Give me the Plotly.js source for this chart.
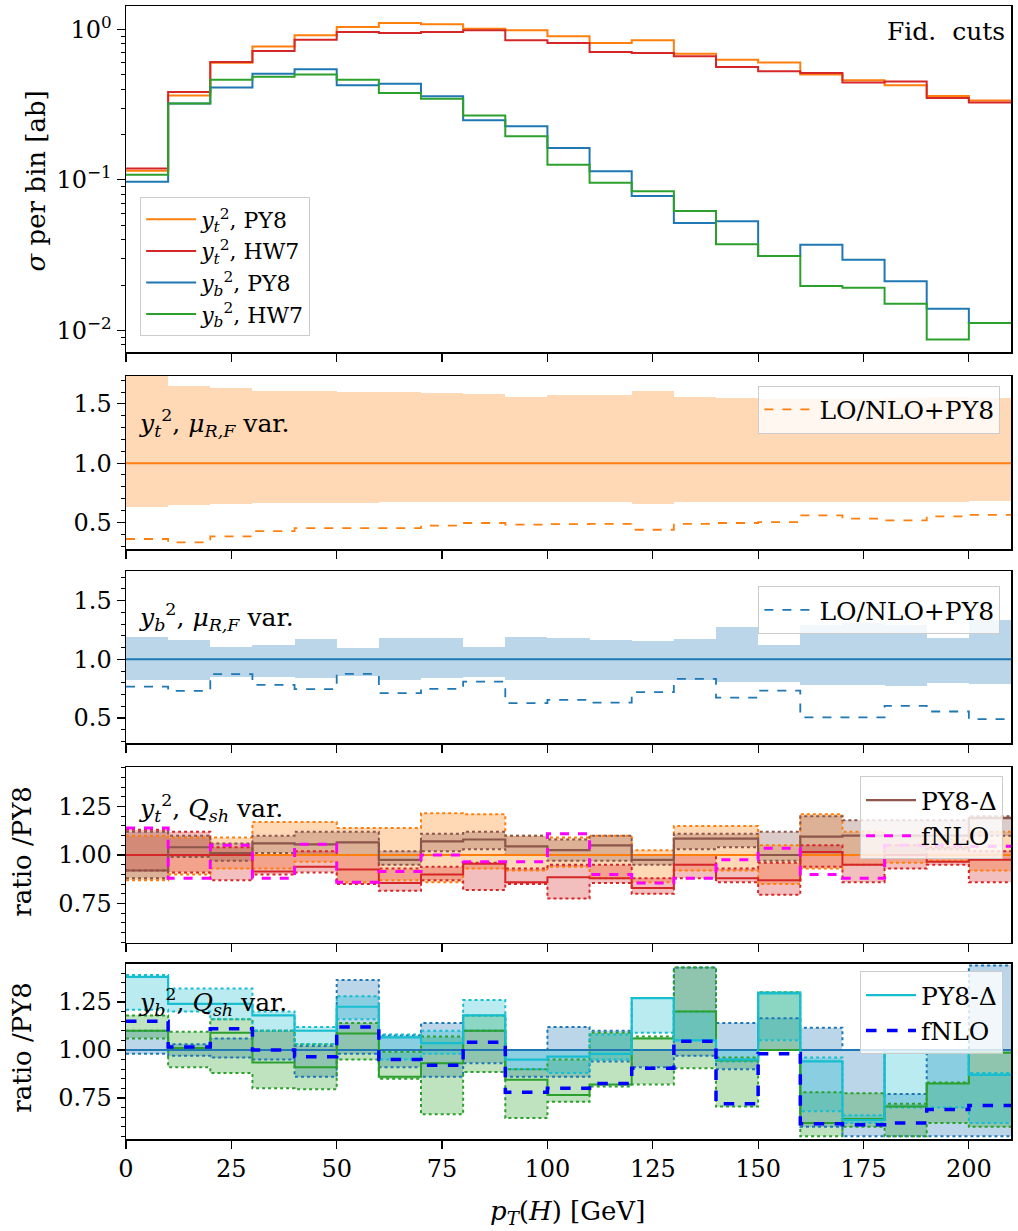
<!DOCTYPE html>
<html><head><meta charset="utf-8">
<script src="https://cdn.plot.ly/plotly-3.0.1.min.js"></script>
<style>html,body{margin:0;padding:0;background:#fff}#plot{width:1018px;height:1231px}</style>
</head><body><div id="plot"></div>
<script>
// ---------- data ----------
const binEdges = [0,10,20,30,40,50,60,70,80,90,100,110,120,130,140,150,160,170,180,190,200,210];
const xTicks = [0,25,50,75,100,125,150,175,200];

// panel 1: sigma per bin [ab]
const ytPY8 = [0.115,0.364,0.600,0.770,0.912,1.036,1.100,1.080,1.010,0.985,0.899,0.811,0.845,0.689,0.629,0.601,0.502,0.458,0.425,0.360,0.337];
const ytHW7 = [0.119,0.383,0.607,0.718,0.854,0.960,0.945,0.960,0.985,0.845,0.811,0.707,0.696,0.662,0.562,0.526,0.513,0.443,0.451,0.350,0.326];
const ybPY8 = [0.097,0.321,0.410,0.507,0.542,0.425,0.435,0.359,0.249,0.227,0.163,0.114,0.078,0.0516,0.053,0.0312,0.0371,0.0295,0.0212,0.0139,0.0112];
const ybHW7 = [0.108,0.321,0.463,0.485,0.502,0.463,0.377,0.346,0.268,0.195,0.126,0.0958,0.0839,0.0621,0.0373,0.0312,0.0197,0.0192,0.0150,0.0087,0.0112];

// nominal ratio
const nominal = [1,1,1,1,1,1,1,1,1,1,1,1,1,1,1,1,1,1,1,1,1];

// panel 2: y_t^2 mu_RF variation
const ytMuLo = [0.634,0.649,0.657,0.663,0.663,0.663,0.668,0.668,0.668,0.668,0.668,0.668,0.655,0.674,0.674,0.674,0.674,0.674,0.674,0.674,0.682];
const ytMuHi = [1.80,1.651,1.632,1.612,1.609,1.600,1.600,1.590,1.584,1.561,1.578,1.578,1.607,1.556,1.550,1.539,1.544,1.544,1.547,1.556,1.548];
const ytLO = [0.360,0.331,0.382,0.427,0.452,0.452,0.452,0.472,0.495,0.481,0.486,0.488,0.438,0.488,0.495,0.503,0.559,0.531,0.517,0.551,0.564];

// panel 3: y_b^2 mu_RF variation
const ybMuLo = [0.824,0.824,0.847,0.847,0.839,0.858,0.824,0.839,0.852,0.824,0.824,0.824,0.824,0.824,0.805,0.805,0.782,0.782,0.773,0.796,0.788];
const ybMuHi = [1.192,1.164,1.107,1.121,1.172,1.093,1.178,1.184,1.102,1.192,1.178,1.164,1.155,1.175,1.277,1.121,1.291,1.306,1.290,1.180,1.334];
const ybLO = [0.767,0.731,0.873,0.782,0.745,0.875,0.711,0.748,0.810,0.626,0.654,0.631,0.720,0.833,0.674,0.733,0.504,0.504,0.603,0.555,0.490];

// panel 4: y_t^2 Q_sh variation
const ytPY8QLo = [0.87,0.90,0.93,0.93,0.965,0.86,0.87,0.86,0.93,0.92,0.94,0.88,0.86,0.92,0.92,0.85,0.93,0.95,0.96,0.97,0.92];
const ytPY8QHi = [1.10,1.09,1.09,1.17,1.17,1.14,1.14,1.215,1.21,1.10,1.09,1.10,1.025,1.15,1.15,1.05,1.21,1.12,1.10,1.08,1.12];
const ytHW7R   = [1.00,1.00,1.00,0.915,0.94,0.925,0.855,0.90,0.955,0.86,0.885,0.88,0.83,0.95,0.88,0.87,1.015,0.95,1.00,0.965,0.975];
const ytHW7QLo = [0.92,0.91,0.87,0.90,0.91,0.85,0.815,0.87,0.82,0.85,0.775,0.855,0.80,0.88,0.86,0.795,0.94,0.86,0.93,0.95,0.86];
const ytHW7QHi = [1.13,1.12,1.04,1.00,1.02,1.00,0.93,0.94,0.96,0.93,0.95,0.95,0.88,1.00,0.93,0.96,1.05,1.00,1.05,1.04,1.02];
const ytDelta  = [0.92,1.04,1.01,1.06,1.055,1.065,0.975,1.07,1.08,1.045,1.025,1.05,0.975,1.085,1.085,1.00,1.095,1.10,1.10,1.10,1.19];
const ytDelLo  = [0.88,0.99,0.97,1.01,1.00,1.00,0.95,1.02,1.03,1.00,0.97,0.97,0.95,1.03,1.04,0.97,1.00,1.00,1.00,1.03,1.10];
const ytDelHi  = [1.12,1.10,1.06,1.10,1.12,1.12,1.02,1.11,1.12,1.10,1.08,1.10,1.00,1.11,1.11,1.12,1.20,1.18,1.18,1.18,1.20];
const ytFNLO   = [1.14,0.88,1.05,0.88,1.055,0.86,0.915,1.00,0.965,0.965,1.11,0.90,0.855,0.88,0.975,1.035,0.90,0.88,1.05,1.05,1.045];

// panel 5: y_b^2 Q_sh variation
const ybPY8QLo = [0.98,0.97,0.96,0.95,0.86,0.98,0.91,0.86,0.93,0.86,0.86,0.94,0.91,0.97,0.90,1.00,0.60,0.55,0.55,0.55,0.55];
const ybPY8QHi = [1.10,1.03,1.06,1.10,1.02,1.365,1.075,1.14,1.10,1.00,1.12,1.10,1.00,1.43,1.14,1.165,1.115,1.00,0.77,1.00,1.44];
const ybHW7R   = [1.10,1.01,1.09,0.935,0.91,1.085,0.86,0.93,1.10,0.845,0.765,0.82,1.06,1.20,0.945,1.00,0.62,0.64,0.705,0.825,0.985];
const ybHW7QLo = [1.06,0.91,0.88,0.80,0.795,0.95,0.85,0.665,0.885,0.645,0.73,0.81,0.82,0.905,0.705,1.00,0.55,0.60,0.55,0.62,0.60];
const ybHW7QHi = [1.18,1.095,1.16,1.10,1.03,1.14,0.99,1.07,1.18,0.90,0.95,1.09,1.07,1.43,0.96,1.30,0.78,0.775,0.72,0.83,1.00];
const ybDelta  = [1.38,1.24,1.24,1.18,1.10,1.225,1.065,1.035,1.18,0.95,0.965,0.98,1.27,1.05,0.95,1.295,0.94,0.635,0.985,0.985,0.87];
const ybDelLo  = [1.21,1.20,1.16,1.10,1.03,1.16,0.95,0.98,1.10,0.90,0.88,0.95,1.09,1.05,0.94,1.05,0.68,0.62,0.70,0.70,0.62];
const ybDelHi  = [1.39,1.32,1.32,1.20,1.12,1.28,1.08,1.10,1.26,1.00,1.00,1.08,1.27,1.20,1.00,1.30,0.96,0.66,1.00,1.00,0.88];
const ybFNLO   = [1.15,1.015,1.11,1.00,0.965,1.12,0.95,0.92,1.04,0.78,0.80,0.825,0.905,1.045,0.72,0.98,0.615,0.61,0.62,0.69,0.71];

// ---------- helpers ----------
const FONT = 'DejaVu Serif, Liberation Serif, serif';
const C = {orange:'#ff7f0e', red:'#d62728', blue:'#1f77b4', green:'#2ca02c', brown:'#8c564b', cyan:'#17becf', magenta:'#ff00ff', fblue:'#0000ff'};
const F = {orange:'rgba(255,127,14,0.3)', red:'rgba(214,39,40,0.3)', blue:'rgba(31,119,180,0.3)', green:'rgba(44,160,44,0.3)', brown:'rgba(140,86,75,0.3)', cyan:'rgba(23,190,207,0.3)'};
const centers = binEdges.slice(0,-1).map((e,i)=>(e+binEdges[i+1])/2);
const widths = binEdges.slice(0,-1).map((e,i)=>binEdges[i+1]-e);
const stepY = v => v.concat([v[v.length-1]]);

function step(vals, color, ax, opts={}) {
  return {type:'scatter', mode:'lines', x:binEdges, y:stepY(vals),
    line:{shape:'hv', color:color, width:opts.width||2, dash:opts.dash||'solid'},
    xaxis:'x'+ax.x, yaxis:'y'+ax.y, hoverinfo:'skip',
    showlegend: !!opts.name, name: opts.name||'', legend: opts.legend||'legend'};
}
function band(lo, hi, fill, ax) {
  return {type:'bar', x:centers, width:widths, base:lo, y:hi.map((h,i)=>h-lo[i]),
    marker:{color:fill, line:{width:0}}, xaxis:'x'+ax.x, yaxis:'y'+ax.y,
    showlegend:false, hoverinfo:'skip'};
}
const A1 = {x:'', y:''}, A2 = {x:'2', y:'2'}, A3 = {x:'3', y:'3'}, A4 = {x:'4', y:'4'}, A5 = {x:'5', y:'5'};

const yt = '<i>y</i><sub><i>t</i></sub><sup>2</sup>';
const yb = '<i>y</i><sub><i>b</i></sub><sup>2</sup>';

const traces = [
  // panel 1
  step(ytPY8, C.orange, A1, {name: yt+', PY8', legend:'legend'}),
  step(ytHW7, C.red, A1, {name: yt+', HW7', legend:'legend'}),
  step(ybPY8, C.blue, A1, {name: yb+', PY8', legend:'legend'}),
  step(ybHW7, C.green, A1, {name: yb+', HW7', legend:'legend'}),
  // panel 2
  band(ytMuLo, ytMuHi, F.orange, A2),
  step(nominal, C.orange, A2, {width:2}),
  step(ytLO, C.orange, A2, {width:1.8, dash:'dash', name:'LO/NLO+PY8', legend:'legend2'}),
  // panel 3
  band(ybMuLo, ybMuHi, F.blue, A3),
  step(nominal, C.blue, A3, {width:2}),
  step(ybLO, C.blue, A3, {width:1.8, dash:'dash', name:'LO/NLO+PY8', legend:'legend3'}),
  // panel 4
  band(ytPY8QLo, ytPY8QHi, F.orange, A4),
  band(ytHW7QLo, ytHW7QHi, F.red, A4),
  band(ytDelLo, ytDelHi, F.brown, A4),
  step(ytPY8QLo, C.orange, A4, {dash:'dot', width:2}),
  step(ytPY8QHi, C.orange, A4, {dash:'dot', width:2}),
  step(ytHW7QLo, C.red, A4, {dash:'dot', width:2}),
  step(ytHW7QHi, C.red, A4, {dash:'dot', width:2}),
  step(ytDelLo, C.brown, A4, {dash:'dot', width:2}),
  step(ytDelHi, C.brown, A4, {dash:'dot', width:2}),
  step(nominal, C.orange, A4, {width:2}),
  step(ytHW7R, C.red, A4, {width:2}),
  step(ytDelta, C.brown, A4, {width:2.2, name:'PY8-Δ', legend:'legend4'}),
  step(ytFNLO, C.magenta, A4, {width:3, dash:'dash', name:'fNLO', legend:'legend4'}),
  // panel 5
  band(ybPY8QLo, ybPY8QHi, F.blue, A5),
  band(ybHW7QLo, ybHW7QHi, F.green, A5),
  band(ybDelLo, ybDelHi, F.cyan, A5),
  step(ybPY8QLo, C.blue, A5, {dash:'dot', width:2}),
  step(ybPY8QHi, C.blue, A5, {dash:'dot', width:2}),
  step(ybHW7QLo, C.green, A5, {dash:'dot', width:2}),
  step(ybHW7QHi, C.green, A5, {dash:'dot', width:2}),
  step(ybDelLo, C.cyan, A5, {dash:'dot', width:2}),
  step(ybDelHi, C.cyan, A5, {dash:'dot', width:2}),
  step(nominal, C.blue, A5, {width:2}),
  step(ybHW7R, C.green, A5, {width:2}),
  step(ybDelta, C.cyan, A5, {width:2.2, name:'PY8-Δ', legend:'legend5'}),
  step(ybFNLO, C.fblue, A5, {width:3.5, dash:'dash', name:'fNLO', legend:'legend5'}),
];

// ---------- layout ----------
const tickfont = {family:FONT, size:24, color:'#000'};
const baseAx = {showline:true, linecolor:'#000', linewidth:1.5, mirror:true, ticks:'outside',
  ticklen:8, tickwidth:1.2, tickcolor:'#000', showgrid:false, zeroline:false, tickfont:tickfont};
function xax(anchor, labels) {
  const a = Object.assign({}, baseAx, {anchor:anchor, range:[0,210], tickvals:xTicks, showticklabels:labels});
  if (anchor !== 'y') a.matches = 'x';
  return a;
}
const minorR = d => ({dtick:d, tick0:0, ticklen:4, tickwidth:1, tickcolor:'#000', ticks:'outside', showgrid:false});
const legBase = {bgcolor:'rgba(255,255,255,0.8)', bordercolor:'#cccccc', borderwidth:1,
  font:{family:FONT, size:25, color:'#000'}, tracegroupgap:0, itemwidth:50};

const layout = {
  width:1018, height:1231, margin:{l:126, r:7, t:6, b:92},
  paper_bgcolor:'#fff', plot_bgcolor:'#fff', barmode:'overlay', bargap:0,
  font:{family:FONT, size:24, color:'#000'},
  xaxis: xax('y', false), xaxis2: xax('y2', false), xaxis3: xax('y3', false),
  xaxis4: xax('y4', false), xaxis5: xax('y5', true),
  yaxis: Object.assign({}, baseAx, {anchor:'x', type:'log', domain:[0.6946,1.0], range:[-2.144,0.155],
    tickvals:[0.01,0.1,1], ticktext:['10<sup>−2</sup>','10<sup>−1</sup>','10<sup>0</sup>'],
    minor:{dtick:'D1', ticklen:4, tickwidth:1, tickcolor:'#000', ticks:'outside', showgrid:false}}),
  yaxis2: Object.assign({}, baseAx, {anchor:'x2', domain:[0.5207,0.6734], range:[0.275,1.735],
    tickvals:[0.5,1.0,1.5], tickformat:'.1f', minor:minorR(0.1)}),
  yaxis3: Object.assign({}, baseAx, {anchor:'x3', domain:[0.3495,0.5013], range:[0.286,1.753],
    tickvals:[0.5,1.0,1.5], tickformat:'.1f', minor:minorR(0.1)}),
  yaxis4: Object.assign({}, baseAx, {anchor:'x4', domain:[0.1730,0.3283], range:[0.546,1.454],
    tickvals:[0.75,1.0,1.25], tickformat:'.2f', minor:minorR(0.05)}),
  yaxis5: Object.assign({}, baseAx, {anchor:'x5', domain:[0,0.1545], range:[0.536,1.448],
    tickvals:[0.75,1.0,1.25], tickformat:'.2f', minor:minorR(0.05)}),
  legend: Object.assign({}, legBase, {x:0.016, y:0.831, xanchor:'left', yanchor:'top', font:{family:FONT, size:22, color:'#000'}}),
  legend2: Object.assign({}, legBase, {x:0.988, y:0.665, xanchor:'right', yanchor:'top'}),
  legend3: Object.assign({}, legBase, {x:0.988, y:0.488, xanchor:'right', yanchor:'top'}),
  legend4: Object.assign({}, legBase, {x:0.991, y:0.320, xanchor:'right', yanchor:'top'}),
  legend5: Object.assign({}, legBase, {x:0.991, y:0.148, xanchor:'right', yanchor:'top'}),
  annotations: [
    {text:'Fid.  cuts', xref:'x domain', yref:'y domain', x:0.995, y:0.975, xanchor:'right', yanchor:'top', showarrow:false, font:{family:FONT, size:25}},
    {text: yt+', <i>μ</i><sub><i>R,F</i></sub> var.', xref:'x2 domain', yref:'y2 domain', x:0.012, y:0.73, xanchor:'left', yanchor:'middle', showarrow:false, font:{family:FONT, size:25}},
    {text: yb+', <i>μ</i><sub><i>R,F</i></sub> var.', xref:'x3 domain', yref:'y3 domain', x:0.012, y:0.73, xanchor:'left', yanchor:'middle', showarrow:false, font:{family:FONT, size:25}},
    {text: yt+', <i>Q</i><sub><i>sh</i></sub> var.', xref:'x4 domain', yref:'y4 domain', x:0.012, y:0.77, xanchor:'left', yanchor:'middle', showarrow:false, font:{family:FONT, size:25}},
    {text: yb+', <i>Q</i><sub><i>sh</i></sub> var.', xref:'x5 domain', yref:'y5 domain', x:0.012, y:0.78, xanchor:'left', yanchor:'middle', showarrow:false, font:{family:FONT, size:25}},
    {text:'<i>σ</i> per bin [ab]', xref:'paper', yref:'paper', x:-0.1006, y:0.846, xanchor:'center', yanchor:'middle', textangle:-90, showarrow:false, font:{family:FONT, size:26}},
    {text:'ratio /PY8', xref:'paper', yref:'paper', x:-0.117, y:0.254, xanchor:'center', yanchor:'middle', textangle:-90, showarrow:false, font:{family:FONT, size:26}},
    {text:'ratio /PY8', xref:'paper', yref:'paper', x:-0.117, y:0.081, xanchor:'center', yanchor:'middle', textangle:-90, showarrow:false, font:{family:FONT, size:26}},
    {text:'<i>p</i><sub><i>T</i></sub>(<i>H</i>) [GeV]', xref:'paper', yref:'paper', x:0.4994, y:-0.0653, xanchor:'center', yanchor:'middle', showarrow:false, font:{family:FONT, size:26}},
  ]
};

Plotly.newPlot('plot', traces, layout, {staticPlot:true, displayModeBar:false});
</script>
</body></html>
